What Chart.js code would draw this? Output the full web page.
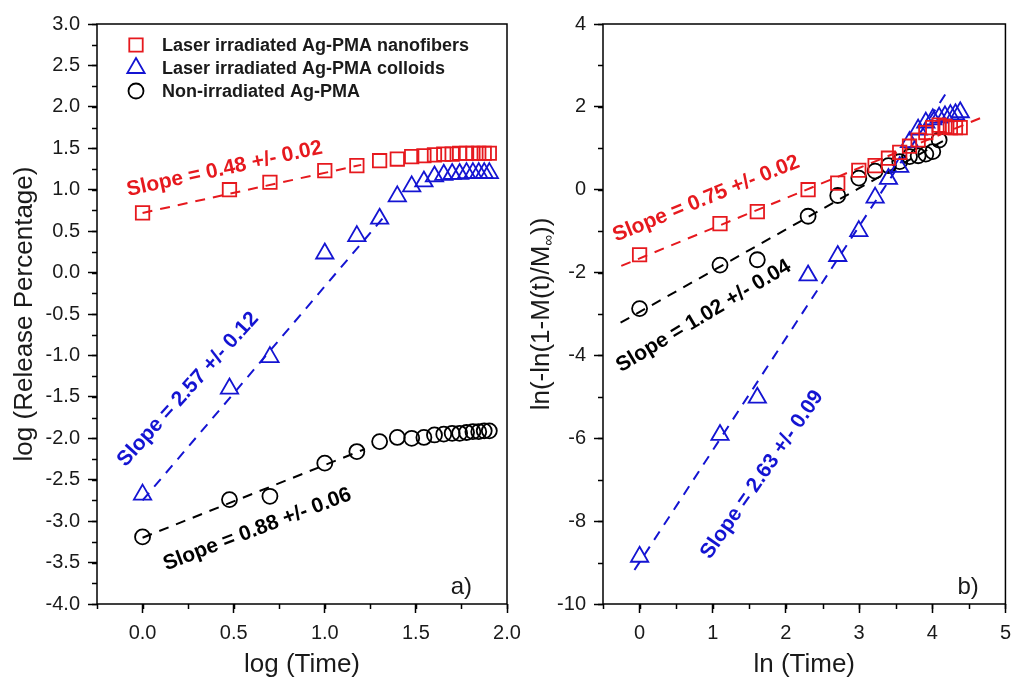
<!DOCTYPE html>
<html>
<head>
<meta charset="utf-8">
<script src="https://cdn.jsdelivr.net/npm/chart.js@4.4.0/dist/chart.umd.min.js"></script>
<style>
  html, body { margin: 0; padding: 0; background: #fff; }
  #wrap { position: relative; width: 1019px; height: 683px; overflow: hidden; }
  canvas { position: absolute; top: 0; }
</style>
</head>
<body>
<div id="wrap">
  <canvas id="chartA" width="560" height="683" style="left:0px"></canvas>
  <canvas id="chartB" width="509" height="683" style="left:510px"></canvas>
</div>
<script>
// release data, sampled at t = 1,3,5,10,15,...,80
var logTime = [0.000, 0.477, 0.699, 1.000, 1.176, 1.301, 1.398, 1.477, 1.544, 1.602, 1.653, 1.699, 1.740, 1.778, 1.813, 1.845, 1.875, 1.903];
var lnTime = [0.000, 1.099, 1.609, 2.303, 2.708, 2.996, 3.219, 3.401, 3.555, 3.689, 3.807, 3.912, 4.007, 4.094, 4.174, 4.248, 4.317, 4.382];

var seriesNames = ['Laser irradiated Ag-PMA nanofibers', 'Laser irradiated Ag-PMA colloids', 'Non-irradiated Ag-PMA'];

// panel a) log (Release Percentage)
var nanoLog = [0.72, 1.00, 1.09, 1.23, 1.29, 1.35, 1.37, 1.40, 1.41, 1.42, 1.43, 1.43, 1.44, 1.44, 1.44, 1.44, 1.44, 1.44];
var colloidLog = [-2.68, -1.40, -1.02, 0.23, 0.44, 0.65, 0.92, 1.04, 1.10, 1.16, 1.18, 1.19, 1.19, 1.20, 1.20, 1.20, 1.20, 1.20];
var plainLog = [-3.19, -2.74, -2.70, -2.30, -2.16, -2.04, -1.99, -2.00, -1.99, -1.96, -1.95, -1.94, -1.94, -1.93, -1.92, -1.92, -1.91, -1.91];

// panel b) ln(-ln(1-M(t)/Minf))
var nanoLn = [-1.57, -0.82, -0.53, 0.00, 0.16, 0.47, 0.58, 0.76, 0.90, 1.05, 1.20, 1.38, 1.50, 1.56, 1.53, 1.50, 1.50, 1.50];
var colloidLn = [-8.86, -5.92, -5.02, -2.07, -1.60, -1.00, -0.19, 0.26, 0.55, 1.15, 1.45, 1.62, 1.70, 1.74, 1.77, 1.80, 1.82, 1.87];
var plainLn = [-2.87, -1.82, -1.69, -0.64, -0.14, 0.28, 0.45, 0.58, 0.68, 0.80, 0.82, 0.86, 0.92, 1.20];

// fitted lines (end points)
var nanoFitLogX = [0.0, 1.2], nanoFitLogY = [0.72, 1.30];
var colloidFitLogX = [0.0, 1.32], colloidFitLogY = [-2.75, 0.66];
var plainFitLogX = [0.0, 1.22], plainFitLogY = [-3.20, -2.13];
var nanoFitLnX = [-0.25, 4.7], nanoFitLnY = [-1.84, 1.76];
var colloidFitLnX = [-0.07, 4.2], colloidFitLnY = [-9.18, 2.36];
var plainFitLnX = [-0.26, 4.22], plainFitLnY = [-3.21, 1.25];

var slopeLogText = ['Slope = 0.48 +/- 0.02', 'Slope = 2.57 +/- 0.12', 'Slope = 0.88 +/- 0.06'];
var slopeLnText = ['Slope = 0.75 +/- 0.02', 'Slope = 2.63 +/- 0.09', 'Slope = 1.02 +/- 0.04'];

var RED = 'rgb(230,25,30)';
var BLUE = 'rgb(20,20,210)';
var BLACK = '#000';
var FONT = '"Liberation Sans", Arial, Helvetica, sans-serif';

function toPoints(xs, ys) {
    return ys.map(function (y, i) { return { x: xs[i], y: y }; });
}

function markerSet(label, xs, ys, color, style, radius) {
    return {
        label: label,
        data: toPoints(xs, ys),
        pointStyle: style,
        pointRadius: radius,
        pointBorderWidth: 1.8,
        borderColor: color,
        backgroundColor: 'rgba(0,0,0,0)',
        showLine: false
    };
}

function fitSet(xs, ys, color) {
    return {
        label: 'fit',
        data: toPoints(xs, ys),
        showLine: true,
        borderColor: color,
        borderWidth: 2,
        borderDash: [10, 8],
        pointRadius: 0,
        fill: false
    };
}

function range(min, max, step) {
    var out = [];
    for (var v = min; v <= max + 1e-9; v += step) out.push(Math.round(v * 1000) / 1000);
    return out;
}

function axis(min, max, major, digits, isX, size) {
    var majors = range(Math.ceil(min / major - 1e-9) * major, max, major);
    return {
        type: 'linear',
        min: min,
        max: max,
        afterBuildTicks: function (scale) {
            scale.ticks = majors.map(function (v) { return { value: v }; });
        },
        afterFit: function (scale) {
            if (isX) scale.height = size; else scale.width = size;
        },
        grid: { display: true, drawOnChartArea: false, drawTicks: true, tickLength: 9, tickWidth: 1.5, tickColor: '#000' },
        border: { display: false },
        ticks: {
            font: { family: FONT, size: 20 },
            color: '#1a1a1a',
            padding: 8,
            maxRotation: 0,
            autoSkip: false,
            callback: function (v) { return Number(v).toFixed(digits); }
        }
    };
}

// frame, minor ticks, titles, notes and legend
var panelDecor = {
    id: 'panelDecor',
    afterDraw: function (chart, args, o) {
        var ctx = chart.ctx, a = chart.chartArea;
        var xs = chart.scales.x, ys = chart.scales.y;
        ctx.save();

        ctx.strokeStyle = '#000';
        ctx.lineWidth = 1.5;
        ctx.strokeRect(a.left, a.top, a.right - a.left, a.bottom - a.top);

        // minor ticks
        ctx.beginPath();
        range(xs.min, xs.max, o.xMinor).forEach(function (v) {
            var px = Math.round(xs.getPixelForValue(v)) + 0.5;
            ctx.moveTo(px, a.bottom);
            ctx.lineTo(px, a.bottom + 5);
        });
        range(ys.min, ys.max, o.yMinor).forEach(function (v) {
            var py = Math.round(ys.getPixelForValue(v)) + 0.5;
            ctx.moveTo(a.left, py);
            ctx.lineTo(a.left - 5, py);
        });
        ctx.stroke();

        // axis titles
        ctx.fillStyle = '#1a1a1a';
        ctx.textAlign = 'center';
        ctx.textBaseline = 'middle';
        ctx.font = '26px ' + FONT;
        ctx.fillText(o.xTitle, (a.left + a.right) / 2, o.xTitleY);

        ctx.save();
        ctx.translate(o.yTitleX, (a.top + a.bottom) / 2);
        ctx.rotate(-Math.PI / 2);
        var parts = o.yTitle;
        var widths = parts.map(function (p) {
            ctx.font = (p.sub ? '15px ' : '26px ') + FONT;
            return ctx.measureText(p.text).width;
        });
        var total = widths.reduce(function (s, w) { return s + w; }, 0);
        var cx = -total / 2;
        ctx.textAlign = 'left';
        parts.forEach(function (p, i) {
            ctx.font = (p.sub ? '15px ' : '26px ') + FONT;
            ctx.fillText(p.text, cx, p.sub ? 7 : 0);
            cx += widths[i];
        });
        ctx.restore();

        // slope notes along the fits
        ctx.font = 'bold 21px ' + FONT;
        o.notes.forEach(function (n) {
            var x0 = xs.getPixelForValue(n.x), y0 = ys.getPixelForValue(n.y);
            var x1 = xs.getPixelForValue(n.x + 1), y1 = ys.getPixelForValue(n.y + n.slope);
            ctx.save();
            ctx.translate(x0, y0);
            ctx.rotate(Math.atan2(y1 - y0, x1 - x0));
            ctx.fillStyle = n.color;
            ctx.textAlign = 'center';
            ctx.fillText(n.text, 0, 0);
            ctx.restore();
        });

        // panel tag
        ctx.font = '24px ' + FONT;
        ctx.fillStyle = '#1a1a1a';
        ctx.fillText(o.tag.text, xs.getPixelForValue(o.tag.x), ys.getPixelForValue(o.tag.y));

        // legend
        if (o.legend) {
            ctx.font = 'bold 18px ' + FONT;
            ctx.textAlign = 'left';
            chart.data.datasets.slice(0, 3).forEach(function (ds, i) {
                var y = o.legend.y + i * o.legend.gap;
                ctx.strokeStyle = ds.borderColor;
                ctx.fillStyle = 'rgba(0,0,0,0)';
                ctx.lineWidth = ds.pointBorderWidth;
                Chart.helpers.drawPoint(ctx, {
                    pointStyle: ds.pointStyle, radius: ds.pointRadius, rotation: 0, borderWidth: ds.pointBorderWidth
                }, o.legend.x, y);
                ctx.fillStyle = '#1a1a1a';
                ctx.fillText(ds.label, o.legend.textX, y + 1);
            });
        }
        ctx.restore();
    }
};

function makePanel(id, p) {
    return new Chart(document.getElementById(id), {
        type: 'scatter',
        data: {
            datasets: [
                markerSet(seriesNames[0], p.x, p.nano, RED, 'rect', 9.5),
                markerSet(seriesNames[1], p.x, p.colloid, BLUE, 'triangle', 10),
                markerSet(seriesNames[2], p.x, p.plain, BLACK, 'circle', 7.5),
                fitSet(p.fits[0][0], p.fits[0][1], RED),
                fitSet(p.fits[1][0], p.fits[1][1], BLUE),
                fitSet(p.fits[2][0], p.fits[2][1], BLACK)
            ]
        },
        options: {
            responsive: false,
            animation: false,
            layout: { padding: p.padding },
            scales: {
                x: axis(p.xMin, p.xMax, p.xMajor, p.xDigits, true, 79),
                y: axis(p.yMin, p.yMax, p.yMajor, p.yDigits, false, p.yAxisW)
            },
            plugins: {
                legend: { display: false },
                tooltip: { enabled: false },
                panelDecor: p.decor
            }
        },
        plugins: [panelDecor]
    });
}

makePanel('chartA', {
    x: logTime, nano: nanoLog, colloid: colloidLog, plain: plainLog,
    fits: [[nanoFitLogX, nanoFitLogY], [colloidFitLogX, colloidFitLogY], [plainFitLogX, plainFitLogY]],
    xMin: -0.25, xMax: 2.0, xMajor: 0.5, xDigits: 1,
    yMin: -4, yMax: 3, yMajor: 0.5, yDigits: 1,
    yAxisW: 97,
    padding: { top: 24, right: 53, bottom: 0, left: 0 },
    decor: {
        xMinor: 0.25, yMinor: 0.25,
        xTitle: 'log (Time)', xTitleY: 665,
        yTitle: [{ text: 'log (Release Percentage)' }], yTitleX: 25,
        notes: [
            { text: slopeLogText[0], x: 0.45, y: 1.25, slope: 0.48, color: RED },
            { text: slopeLogText[1], x: 0.25, y: -1.41, slope: 2.44, color: BLUE },
            { text: slopeLogText[2], x: 0.63, y: -3.10, slope: 0.84, color: BLACK }
        ],
        tag: { text: 'a)', x: 1.75, y: -3.8 },
        legend: { x: 136, textX: 162, y: 45, gap: 23 }
    }
});

makePanel('chartB', {
    x: lnTime, nano: nanoLn, colloid: colloidLn, plain: plainLn,
    fits: [[nanoFitLnX, nanoFitLnY], [colloidFitLnX, colloidFitLnY], [plainFitLnX, plainFitLnY]],
    xMin: -0.5, xMax: 5, xMajor: 1, xDigits: 0,
    yMin: -10, yMax: 4, yMajor: 2, yDigits: 0,
    yAxisW: 93,
    padding: { top: 24, right: 6, bottom: 0, left: 0 },
    decor: {
        xMinor: 0.5, yMinor: 1,
        xTitle: 'ln (Time)', xTitleY: 665,
        yTitle: [{ text: 'ln(-ln(1-M(t)/M' }, { text: '\u221E', sub: true }, { text: '))' }], yTitleX: 32,
        notes: [
            { text: slopeLnText[0], x: 0.91, y: -0.22, slope: 0.72, color: RED },
            { text: slopeLnText[1], x: 1.675, y: -6.88, slope: 2.55, color: BLUE },
            { text: slopeLnText[2], x: 0.875, y: -3.05, slope: 1.06, color: BLACK }
        ],
        tag: { text: 'b)', x: 4.49, y: -9.6 },
        legend: null
    }
});
</script>
</body>
</html>
